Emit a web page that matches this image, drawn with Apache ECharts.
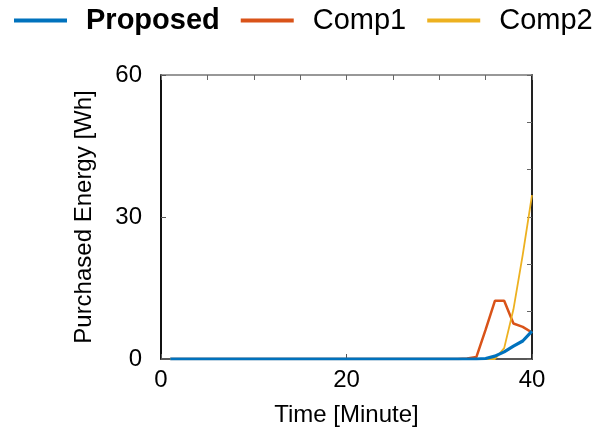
<!DOCTYPE html>
<html>
<head>
<meta charset="utf-8">
<script src="https://cdn.jsdelivr.net/npm/echarts@6/dist/echarts.min.js"></script>
<style>html,body{margin:0;padding:0;background:#fff;}#c{width:609px;height:433px;}</style>
</head>
<body>
<div id="c"></div>
<script>
// Time in minutes
var minutes = [1,2,3,4,5,6,7,8,9,10,11,12,13,14,15,16,17,18,19,20,21,22,23,24,25,26,27,28,29,30,31,32,33,34,35,36,37,38,39,40];
var proposed = [0,0,0,0,0,0,0,0,0,0,0,0,0,0,0,0,0,0,0,0,0,0,0,0,0,0,0,0,0,0,0,0,0,0,0.1,0.6,1.5,2.7,3.8,5.9];
var comp1    = [0,0,0,0,0,0,0,0,0,0,0,0,0,0,0,0,0,0,0,0,0,0,0,0,0,0,0,0,0,0,0,0,0.1,0.4,6.2,12.3,12.3,7.5,6.8,5.6];
var comp2    = [0,0,0,0,0,0,0,0,0,0,0,0,0,0,0,0,0,0,0,0,0,0,0,0,0,0,0,0,0,0,0,0,0,0,0,0,2.3,10.5,22,34.6];
var seriesNames = ['Proposed','Comp1','Comp2'];
var xTickLabels = ['0','20','40'];
var yTickLabels = ['0','30','60'];

function pairs(ys){ return minutes.map(function(m,i){ return [m, ys[i]]; }); }

var FONT = '"Liberation Sans", Arial, Helvetica, sans-serif';
var chart = echarts.init(document.getElementById('c'), null, {renderer:'canvas'});
chart.setOption({
  animation:false,
  backgroundColor:'#fff',
  textStyle:{fontFamily:FONT, color:'#000'},
  legend:{
    left:14, top:6, padding:0, itemWidth:53, itemHeight:4, itemGap:21, icon:'rect',
    textStyle:{fontSize:29, fontFamily:FONT, color:'#000', padding:[0,0,0,14]},
    data:[{name:seriesNames[0], textStyle:{fontWeight:'bold'}}, seriesNames[1], seriesNames[2]]
  },
  grid:{left:161, right:77, top:75, bottom:74, containLabel:false},
  xAxis:[{
    type:'value', min:0, max:40, interval:20, position:'bottom',
    name:'Time [Minute]', nameLocation:'middle', nameGap:44,
    nameTextStyle:{fontSize:24, color:'#000', fontFamily:FONT},
    axisLine:{show:true, onZero:false, lineStyle:{color:'#222', width:1.5}},
    axisTick:{show:true, inside:true, length:5, lineStyle:{color:'#555', width:1}},
    axisLabel:{fontSize:24, color:'#000', margin:9, fontFamily:FONT,
      formatter:function(v){ var i=[0,20,40].indexOf(v); return i>=0?xTickLabels[i]:''; }},
    splitLine:{show:false}
  },{
    type:'value', min:0, max:40, interval:5, position:'top',
    axisLine:{show:true, onZero:false, lineStyle:{color:'#777', width:1.5}},
    axisTick:{show:true, inside:true, length:5, lineStyle:{color:'#666', width:1}},
    axisLabel:{show:false}, splitLine:{show:false}
  }],
  yAxis:[{
    type:'value', min:0, max:60, interval:30, position:'left',
    name:'Purchased Energy [Wh]', nameLocation:'middle', nameGap:65, nameRotate:90,
    nameTextStyle:{fontSize:24, color:'#000', fontFamily:FONT},
    axisLine:{show:true, onZero:false, lineStyle:{color:'#111', width:2}},
    axisTick:{show:true, inside:true, length:5, lineStyle:{color:'#555', width:1}},
    axisLabel:{fontSize:24, color:'#000', margin:19, fontFamily:FONT,
      formatter:function(v){ var i=[0,30,60].indexOf(v); return i>=0?yTickLabels[i]:''; }},
    splitLine:{show:false}
  },{
    type:'value', min:0, max:60, interval:10, position:'right',
    axisLine:{show:true, onZero:false, lineStyle:{color:'#222', width:2}},
    axisTick:{show:true, inside:true, length:5, lineStyle:{color:'#666', width:1}},
    axisLabel:{show:false}, splitLine:{show:false}
  }],
  series:[
    {name:seriesNames[1], type:'line', data:pairs(comp1), showSymbol:false, symbol:'none',
     color:'#D95319', lineStyle:{width:2.5, color:'#D95319'}, z:3},
    {name:seriesNames[2], type:'line', data:pairs(comp2), showSymbol:false, symbol:'none',
     color:'#EDB120', lineStyle:{width:1.8, color:'#EDB120'}, z:4},
    {name:seriesNames[0], type:'line', data:pairs(proposed), showSymbol:false, symbol:'none',
     color:'#0072BD', lineStyle:{width:3.2, color:'#0072BD'}, z:5}
  ]
});
</script>
</body>
</html>
